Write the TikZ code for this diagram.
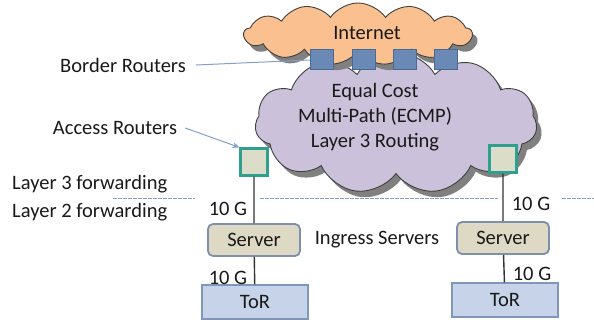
\documentclass[tikz,border=0pt]{standalone}
\usepackage{fontspec}
\setmainfont{Carlito}
\usetikzlibrary{shapes.symbols,shadows,arrows.meta}
\definecolor{netfill}{HTML}{FAC08F}
\definecolor{ecmpfill}{HTML}{CCC1DA}
\definecolor{brfill}{HTML}{6A89B4}
\definecolor{bredge}{HTML}{4A6A96}
\definecolor{arfill}{HTML}{DCDDC8}
\definecolor{aredge}{HTML}{2FA08F}
\definecolor{srvfill}{HTML}{DDD9C4}
\definecolor{srvedge}{HTML}{7D8FAA}
\definecolor{torfill}{HTML}{C6D3E8}
\definecolor{toredge}{HTML}{8197BA}
\definecolor{ptrblue}{HTML}{859FC9}
\tikzset{%
  every cloud/.style={
    cloud,
    cloud ignores aspect,
    draw=black!75,
    line width=0.9pt,
    drop shadow={shadow xshift=5pt, shadow yshift=-6pt, fill=black!50, opacity=1}
  },
  border router/.style={
    draw=bredge,
    fill=brfill,
    line width=1pt,
    minimum width=23pt,
    minimum height=20pt,
    inner sep=0pt
  },
  access router/.style={
    draw=aredge,
    fill=arfill,
    line width=2.2pt,
    minimum size=27pt,
    inner sep=0pt
  },
  server/.style={
    draw=srvedge,
    fill=srvfill,
    line width=1.8pt,
    rounded corners=5pt,
    minimum width=92pt,
    minimum height=32pt
  },
  tor/.style={
    draw=toredge,
    fill=torfill,
    line width=1.4pt,
    minimum width=106pt,
    minimum height=34pt
  },
  txt/.style={inner sep=0pt},
  pointer/.style={draw=ptrblue, line width=1pt},
  layer line/.style={draw=ptrblue, line width=1pt, dash pattern=on 3.5pt off 1.5pt}
}

\begin{document}
\begin{tikzpicture}[x=1pt, y=-1pt, font=\fontsize{20.5}{25}\selectfont, text=black!90]

\useasboundingbox (0,0) rectangle (594,320);

\node [every cloud, fill=ecmpfill, cloud puffs=11, cloud puff arc=120,
  minimum width=282pt, minimum height=142pt] (ecmp) at (396,123) {};
\node [align=center, txt] (ecmp-text) at (375,117)
  {Equal Cost\\Multi-Path (ECMP)\\Layer 3 Routing};

\node [every cloud, fill=netfill, cloud puffs=13, cloud puff arc=110,
  minimum width=228pt, minimum height=62pt] (internet) at (358,34) {};
\node [txt] (internet-text) at (367,33) {Internet};

\foreach \x [count=\i] in {322,364,405,446}
  \node [border router] (br-\i) at (\x,60) {};

\node [access router] (ar-1) at (254,162) {};
\node [access router] (ar-2) at (503,159) {};

\node [server] (srv-1) at (254,240) {Server};
\node [server] (srv-2) at (503,238) {Server};

\node [tor] (tor-1) at (255,302) {ToR};
\node [tor] (tor-2) at (505,300) {ToR};

\foreach \i in {1,2}
  \draw [line width=1.4pt, black!80] (ar-\i) -- (srv-\i) (srv-\i) -- (tor-\i);

\node [txt] (g-1) at (228,209) {10 G};
\node [txt] (g-2) at (531,204) {10 G};
\node [txt] (g-3) at (228,278) {10 G};
\node [txt] (g-4) at (532,274) {10 G};

\node [txt] (ingress) at (377,240) {Ingress Servers};

\node [txt] (border-lbl) at (123,65) {Border Routers};
\node [txt] (access-lbl) at (115,128) {Access Routers};
\node [txt, anchor=west] (l3) at (12,184) {Layer 3 forwarding};
\node [txt, anchor=west] (l2) at (12,212) {Layer 2 forwarding};

\draw [pointer] (border-lbl.east) ++(10,0) -- (br-1.west);
\draw [pointer, -{Stealth[length=7pt, width=6pt]}] (access-lbl.east) ++(8,0) -- (ar-1.north west);

\draw [layer line] (113,199) -- (195,199)
  (260,199) -- (498,199)
  (562,199) -- (594,199);

\end{tikzpicture}
\end{document}
